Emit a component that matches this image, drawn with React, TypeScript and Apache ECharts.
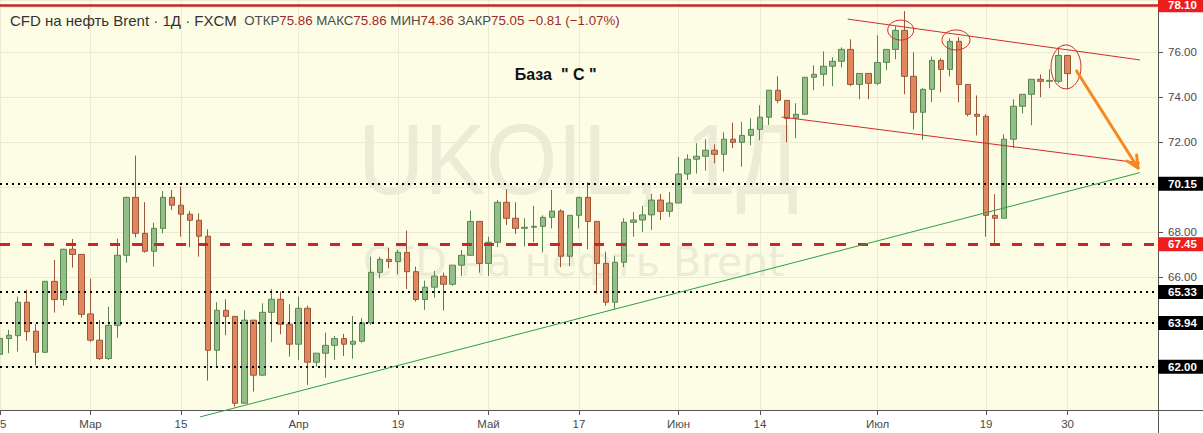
import React, { useEffect, useRef } from 'react';
import * as echarts from 'echarts';

// Trading days (2021) per month
const febDays = [15, 16, 17, 18, 19, 22, 23, 24, 25, 26];
const marDays = [1, 2, 3, 4, 5, 8, 9, 10, 11, 12, 15, 16, 17, 18, 19, 22, 23, 24, 25, 26, 29, 30, 31];
const aprDays = [1, 5, 6, 7, 8, 9, 12, 13, 14, 15, 16, 19, 20, 21, 22, 23, 26, 27, 28, 29, 30];
const mayDays = [3, 4, 5, 6, 7, 10, 11, 12, 13, 14, 17, 18, 19, 20, 21, 24, 25, 26, 27, 28, 31];
const junDays = [1, 2, 3, 4, 7, 8, 9, 10, 11, 14, 15, 16, 17, 18, 21, 22, 23, 24, 25, 28, 29, 30];
const julDays = [1, 2, 5, 6, 7, 8, 9, 12, 13, 14, 15, 16, 19, 20, 21, 22, 23, 26, 27, 28, 29, 30];
const augDays = [2, 3, 4, 5, 6, 9, 10, 11, 12, 13]; // empty space right of last bar

const pad = (d: number) => (d < 10 ? '0' + d : '' + d);
const categories: string[] = [
  ...febDays.map((d) => `2021-02-${pad(d)}`),
  ...marDays.map((d) => `2021-03-${pad(d)}`),
  ...aprDays.map((d) => `2021-04-${pad(d)}`),
  ...mayDays.map((d) => `2021-05-${pad(d)}`),
  ...junDays.map((d) => `2021-06-${pad(d)}`),
  ...julDays.map((d) => `2021-07-${pad(d)}`),
  ...augDays.map((d) => `2021-08-${pad(d)}`),
];

const tickDates = ['2021-02-15', '2021-03-01', '2021-03-15', '2021-04-01', '2021-04-19', '2021-05-03',
  '2021-05-17', '2021-06-01', '2021-06-14', '2021-07-01', '2021-07-19', '2021-07-30'];
const tickTexts = ['15', 'Мар', '15', 'Апр', '19', 'Май', '17', 'Июн', '14', 'Июл', '19', '30'];

const opens = [
  62.55, 63.25, 63.38, 64.87, 63.58, 62.64, 65.80, 64.99, 67.23, 67.00,
  64.35, 63.18, 62.36, 63.84, 66.96, 69.54, 67.94, 67.14, 68.16, 69.54,
  69.19, 68.79, 68.52, 67.81, 62.73, 64.51, 64.24, 60.37, 64.07, 61.62,
  64.42, 65.00, 63.89, 63.00, 64.60, 62.20, 62.60, 62.95, 63.25, 63.00,
  63.13, 63.95, 66.20, 66.78, 66.68, 67.09, 66.23, 64.99, 65.54, 66.03,
  65.67, 66.52, 66.96, 68.47, 66.60, 67.54, 69.32, 68.61, 68.16, 68.21,
  68.25, 68.65, 68.93, 66.92, 68.74, 69.54, 68.47, 66.60, 64.87, 66.65,
  68.43, 68.53, 68.76, 69.42, 68.92, 69.29, 70.58, 71.24, 71.37, 71.64,
  71.46, 72.13, 71.99, 72.30, 72.57, 73.11, 74.31, 73.86, 73.06, 73.24,
  74.89, 75.02, 75.38, 75.60, 76.13, 74.57, 75.06, 74.62, 75.55, 76.13,
  76.98, 74.93, 73.33, 74.35, 75.64, 75.24, 76.49, 74.57, 73.24, 73.15,
  68.74, 68.61, 72.13, 73.60, 74.13, 74.80, 74.71, 74.71, 75.86,
];
const closes = [
  63.26, 63.40, 64.87, 63.56, 62.64, 65.80, 64.99, 67.23, 67.00, 64.33,
  63.18, 62.36, 63.84, 66.96, 69.54, 67.94, 67.14, 68.16, 69.54, 69.19,
  68.79, 68.52, 67.81, 62.73, 64.51, 64.24, 60.37, 64.07, 61.62, 64.42,
  65.00, 63.89, 63.00, 64.60, 62.20, 62.60, 62.95, 63.25, 63.00, 63.13,
  63.95, 66.20, 66.78, 66.68, 67.09, 66.23, 64.99, 65.54, 66.03, 65.67,
  66.52, 66.96, 68.47, 66.60, 67.54, 69.32, 68.61, 68.16, 68.21, 68.25,
  68.65, 68.93, 66.92, 68.74, 69.54, 68.47, 66.60, 64.87, 66.65, 68.43,
  68.53, 68.76, 69.42, 68.92, 69.29, 70.58, 71.24, 71.37, 71.64, 71.46,
  72.13, 71.99, 72.30, 72.57, 73.11, 74.31, 73.86, 73.06, 73.24, 74.89,
  75.02, 75.38, 75.60, 76.13, 74.57, 75.06, 74.62, 75.55, 76.13, 76.98,
  74.93, 73.33, 74.35, 75.64, 75.24, 76.49, 74.57, 73.24, 73.15, 68.74,
  68.61, 72.13, 73.60, 74.13, 74.80, 74.71, 74.75, 75.86, 75.05,
];
const lows = [
  62.40, 62.60, 62.67, 63.15, 62.05, 62.62, 64.41, 64.72, 66.41, 64.18,
  63.10, 62.30, 62.30, 63.29, 66.63, 67.76, 67.08, 66.46, 67.94, 68.98,
  67.79, 67.32, 66.90, 61.38, 61.99, 63.40, 60.22, 60.35, 60.89, 61.60,
  63.09, 63.44, 62.45, 62.30, 61.19, 62.00, 61.51, 62.30, 62.48, 62.36,
  63.07, 63.86, 65.94, 66.38, 66.11, 65.46, 64.90, 64.53, 65.08, 64.50,
  65.60, 66.04, 66.96, 66.19, 66.04, 67.32, 68.31, 67.90, 67.35, 67.54,
  67.09, 68.16, 66.43, 66.47, 68.16, 67.23, 65.27, 64.72, 64.56, 66.43,
  67.79, 67.99, 68.09, 68.53, 68.67, 69.29, 70.32, 70.60, 70.73, 71.06,
  70.69, 71.73, 70.91, 71.86, 72.08, 72.76, 73.73, 71.99, 72.17, 73.24,
  74.31, 74.49, 74.49, 75.33, 74.49, 73.91, 73.91, 74.53, 75.20, 75.69,
  74.13, 72.57, 72.10, 73.77, 74.22, 74.93, 73.77, 73.15, 72.30, 67.79,
  67.48, 68.61, 71.73, 73.28, 72.75, 74.00, 74.40, 74.62, 74.36,
];
const highs = [
  63.40, 63.64, 65.12, 65.42, 63.89, 65.82, 66.75, 67.25, 67.69, 67.02,
  65.92, 64.07, 64.67, 67.70, 69.56, 71.40, 69.33, 68.41, 69.82, 69.87,
  70.02, 68.93, 68.83, 68.12, 64.87, 65.00, 64.24, 64.51, 64.07, 64.82,
  65.45, 65.34, 64.78, 65.12, 64.72, 62.60, 63.52, 63.37, 63.46, 64.26,
  64.16, 66.90, 66.90, 67.30, 67.20, 68.06, 66.46, 65.83, 66.26, 66.19,
  66.52, 67.20, 68.95, 68.47, 67.79, 69.42, 69.90, 69.32, 68.61, 69.16,
  68.74, 69.87, 69.01, 68.74, 69.56, 70.21, 68.47, 67.12, 66.92, 68.61,
  68.89, 69.16, 69.69, 69.69, 69.78, 71.34, 71.46, 71.95, 72.13, 71.90,
  72.44, 72.87, 72.91, 73.06, 73.64, 74.31, 74.93, 73.86, 73.73, 74.89,
  75.42, 76.04, 75.78, 76.22, 76.58, 75.06, 75.06, 76.76, 76.13, 77.16,
  77.84, 76.00, 74.40, 75.81, 75.73, 76.62, 76.67, 74.57, 74.08, 73.24,
  69.68, 72.35, 73.91, 74.13, 74.80, 75.02, 75.24, 76.22, 75.86,
];

// Horizontal price levels drawn on the chart
const levelPrices = [78.10, 70.15, 67.45, 65.33, 63.94, 62.00];
const levelKinds = ['solidRed', 'dotted', 'dashedRed', 'dotted', 'dotted', 'dotted'];

// Drawn annotations in (bar index, price) units
const greenTrend = [[22.1, 59.76], [126.0, 70.64]];
const upperChannel = [[93.7, 77.48], [126.0, 75.66]];
const lowerChannel = [[86.4, 73.12], [126.0, 71.07]];
const forecastArrow = [[119.0, 75.17], [125.8, 70.85]];
const ellipseCenters = [[99.56, 76.99], [105.67, 76.55], [117.83, 75.35]];
const noteText = 'База  " С "';
const notePos = [56.9, 75.03];

const FONT = '"Liberation Sans", Arial, sans-serif';
const GRID_W = 1158;
const GRID_H = 410;

export default function App() {
  const ref = useRef<HTMLDivElement>(null);

  useEffect(() => {
    document.body.style.margin = '0';
    const chart = echarts.init(ref.current!, null, { renderer: 'svg' });

    const tickSet = new Set(tickDates);
    const labelOf: Record<string, string> = {};
    tickDates.forEach((d, i) => (labelOf[d] = tickTexts[i]));
    const isTick = (_i: number, v: string) => tickSet.has(v);

    const n = closes.length;
    const lastO = opens[n - 1];
    const lastC = closes[n - 1];
    const chg = lastC - closes[n - 2];
    const pct = (chg / closes[n - 2]) * 100;
    const sgn = (x: number) => (x < 0 ? '−' + Math.abs(x).toFixed(2) : '+' + x.toFixed(2));

    const titleText =
      `{t|CFD на нефть Brent · 1Д · FXCM}  {l|ОТКР}{v|${lastO.toFixed(2)}} {l|МАКС}{v|${highs[n - 1].toFixed(2)}} ` +
      `{l|МИН}{v|${lows[n - 1].toFixed(2)}} {l|ЗАКР}{v|${lastC.toFixed(2)}} {v|${sgn(chg)} (${sgn(pct)}%)}`;

    const levelStyle = (kind: string) => {
      if (kind === 'solidRed') return { lineStyle: { type: 'solid', color: '#c0272d', width: 2.5 }, bg: '#ee1d1d' };
      if (kind === 'dashedRed') return { lineStyle: { type: [10, 12], color: '#c62828', width: 3 }, bg: '#f01d1d' };
      return { lineStyle: { type: [2, 4], color: '#000', width: 2 }, bg: '#000' };
    };

    const markData: any[] = levelPrices.map((p, i) => {
      const s = levelStyle(levelKinds[i]);
      return { yAxis: p, lineStyle: s.lineStyle, label: { backgroundColor: s.bg } };
    });
    markData.push({ yAxis: lastC, lineStyle: { opacity: 0, width: 0 }, label: { backgroundColor: '#de5a4e' } });

    const labelPrices = levelPrices.concat([lastC]);

    const option: any = {
      animation: false,
      title: {
        left: 5,
        top: 8,
        text: titleText,
        textStyle: {
          fontFamily: FONT,
          fontSize: 13.3,
          fontWeight: 'normal',
          color: '#444',
          rich: {
            t: { fontSize: 15, color: '#333', fontFamily: FONT },
            l: { fontSize: 13.3, color: '#4a4a4a', fontFamily: FONT },
            v: { fontSize: 13.3, color: '#9c2b2b', fontFamily: FONT },
          },
        },
      },
      grid: {
        left: 0,
        top: 0,
        width: GRID_W,
        height: GRID_H,
        show: true,
        backgroundColor: '#fdfde6',
        borderWidth: 0,
        containLabel: false,
        outerBoundsMode: 'none',
      },
      xAxis: {
        type: 'category',
        data: categories,
        boundaryGap: false,
        axisLine: { lineStyle: { color: '#555' } },
        axisTick: { show: true, length: 5, interval: isTick, lineStyle: { color: '#555' } },
        axisLabel: {
          interval: isTick,
          formatter: (v: string) => labelOf[v] || '',
          margin: 8,
          color: '#4a4a4a',
          fontSize: 11.5,
          fontFamily: FONT,
          alignMinLabel: 'center',
          hideOverlap: false,
        },
        splitLine: { show: true, interval: isTick, lineStyle: { color: '#ebebd3' } },
      },
      yAxis: {
        type: 'value',
        position: 'right',
        min: 60.07,
        max: 78.33,
        splitNumber: 9,
        minInterval: 2,
        maxInterval: 2,
        axisLine: { show: true, lineStyle: { color: '#555' } },
        axisTick: { show: true, length: 5, lineStyle: { color: '#555' } },
        axisLabel: {
          margin: 10,
          color: '#4a4a4a',
          fontSize: 11.5,
          fontFamily: FONT,
          showMinLabel: false,
          showMaxLabel: false,
          formatter: (v: number) =>
            labelPrices.some((p) => Math.abs(p - v) < 0.5) ? '' : v.toFixed(2),
        },
        splitLine: { show: true, lineStyle: { color: '#ebebd3' } },
      },
      series: [
        {
          type: 'candlestick',
          clip: false,
          barWidth: 6,
          data: opens.map((o, i) => [o, closes[i], lows[i], highs[i]]),
          itemStyle: {
            color: '#92bf88',
            color0: '#e0875e',
            borderColor: '#5a8550',
            borderColor0: '#9a553a',
            borderWidth: 1,
          },
          markLine: {
            silent: true,
            symbol: ['none', 'none'],
            animation: false,
            label: {
              show: true,
              position: 'end',
              distance: 0,
              formatter: (p: any) => Number(p.value).toFixed(2),
              color: '#fff',
              fontSize: 11.5,
              fontFamily: FONT,
              fontWeight: 'bold',
              padding: [1, 8, 0, 10],
              lineHeight: 13,
            },
            data: markData,
          },
        },
      ],
    };

    chart.setOption(option);

    const px = (idx: number, price: number) => {
      const a = chart.convertToPixel({ gridIndex: 0 }, [0, price]) as number[];
      const b = chart.convertToPixel({ gridIndex: 0 }, [1, price]) as number[];
      return [a[0] + idx * (b[0] - a[0]), a[1]];
    };

    const seg = (pts: number[][], stroke: string, width: number) => {
      const [x1, y1] = px(pts[0][0], pts[0][1]);
      const [x2, y2] = px(pts[1][0], pts[1][1]);
      return { type: 'line', z: 10, silent: true, shape: { x1, y1, x2, y2 }, style: { stroke, lineWidth: width } };
    };

    const [ax1, ay1] = px(forecastArrow[0][0], forecastArrow[0][1]);
    const [ax2, ay2] = px(forecastArrow[1][0], forecastArrow[1][1]);
    const ang = Math.atan2(ay2 - ay1, ax2 - ax1);
    const HL = 13;
    const HA = 0.45;
    const head = [
      [ax2 - HL * Math.cos(ang - HA), ay2 - HL * Math.sin(ang - HA)],
      [ax2, ay2],
      [ax2 - HL * Math.cos(ang + HA), ay2 - HL * Math.sin(ang + HA)],
    ];

    const radii = [[13, 10], [14, 10], [15, 22]];
    const ellipses = ellipseCenters.map((c, i) => {
      const [cx, cy] = px(c[0], c[1]);
      return {
        type: 'ellipse',
        z: 10,
        silent: true,
        shape: { cx, cy, rx: radii[i][0], ry: radii[i][1] },
        style: { fill: 'transparent', stroke: '#d42a2a', lineWidth: 1 },
      };
    });

    const [nx, ny] = px(notePos[0], notePos[1]);

    chart.setOption({
      graphic: [
        {
          type: 'text',
          z: 1,
          silent: true,
          x: 358,
          y: 159,
          scaleX: 0.92,
          style: {
            text: 'UKOIL, 1Д',
            font: `100px ${FONT}`,
            fill: '#ececd6',
            align: 'left',
            verticalAlign: 'middle',
          },
        },
        {
          type: 'text',
          z: 1,
          silent: true,
          x: 363,
          y: 262,
          style: {
            text: 'CFD на нефть Brent',
            font: '41px "DejaVu Sans", sans-serif',
            fill: '#ececd6',
            align: 'left',
            verticalAlign: 'middle',
          },
        },
        {
          type: 'line',
          z: 5,
          silent: true,
          shape: { x1: GRID_W + 0.5, y1: 0, x2: GRID_W + 0.5, y2: 433 },
          style: { stroke: '#555', lineWidth: 1 },
        },
        {
          type: 'line',
          z: 5,
          silent: true,
          shape: { x1: 0, y1: GRID_H + 0.5, x2: 1203, y2: GRID_H + 0.5 },
          style: { stroke: '#555', lineWidth: 1 },
        },
        seg(greenTrend, '#2f9e44', 1),
        seg(upperChannel, '#d42a2a', 1),
        seg(lowerChannel, '#d42a2a', 1),
        ...ellipses,
        {
          type: 'line',
          z: 11,
          silent: true,
          shape: { x1: ax1, y1: ay1, x2: ax2, y2: ay2 },
          style: { stroke: '#f5891f', lineWidth: 3, lineCap: 'round' },
        },
        {
          type: 'polyline',
          z: 11,
          silent: true,
          shape: { points: head },
          style: { stroke: '#f5891f', lineWidth: 3, fill: null, lineCap: 'round', lineJoin: 'round' },
        },
        {
          type: 'text',
          z: 10,
          silent: true,
          x: nx,
          y: ny,
          style: {
            text: noteText,
            font: `bold 16px ${FONT}`,
            fill: '#111',
            align: 'left',
            verticalAlign: 'middle',
          },
        },
      ],
    });

    return () => chart.dispose();
  }, []);

  return <div ref={ref} style={{ width: 1203, height: 433 }} />;
}
